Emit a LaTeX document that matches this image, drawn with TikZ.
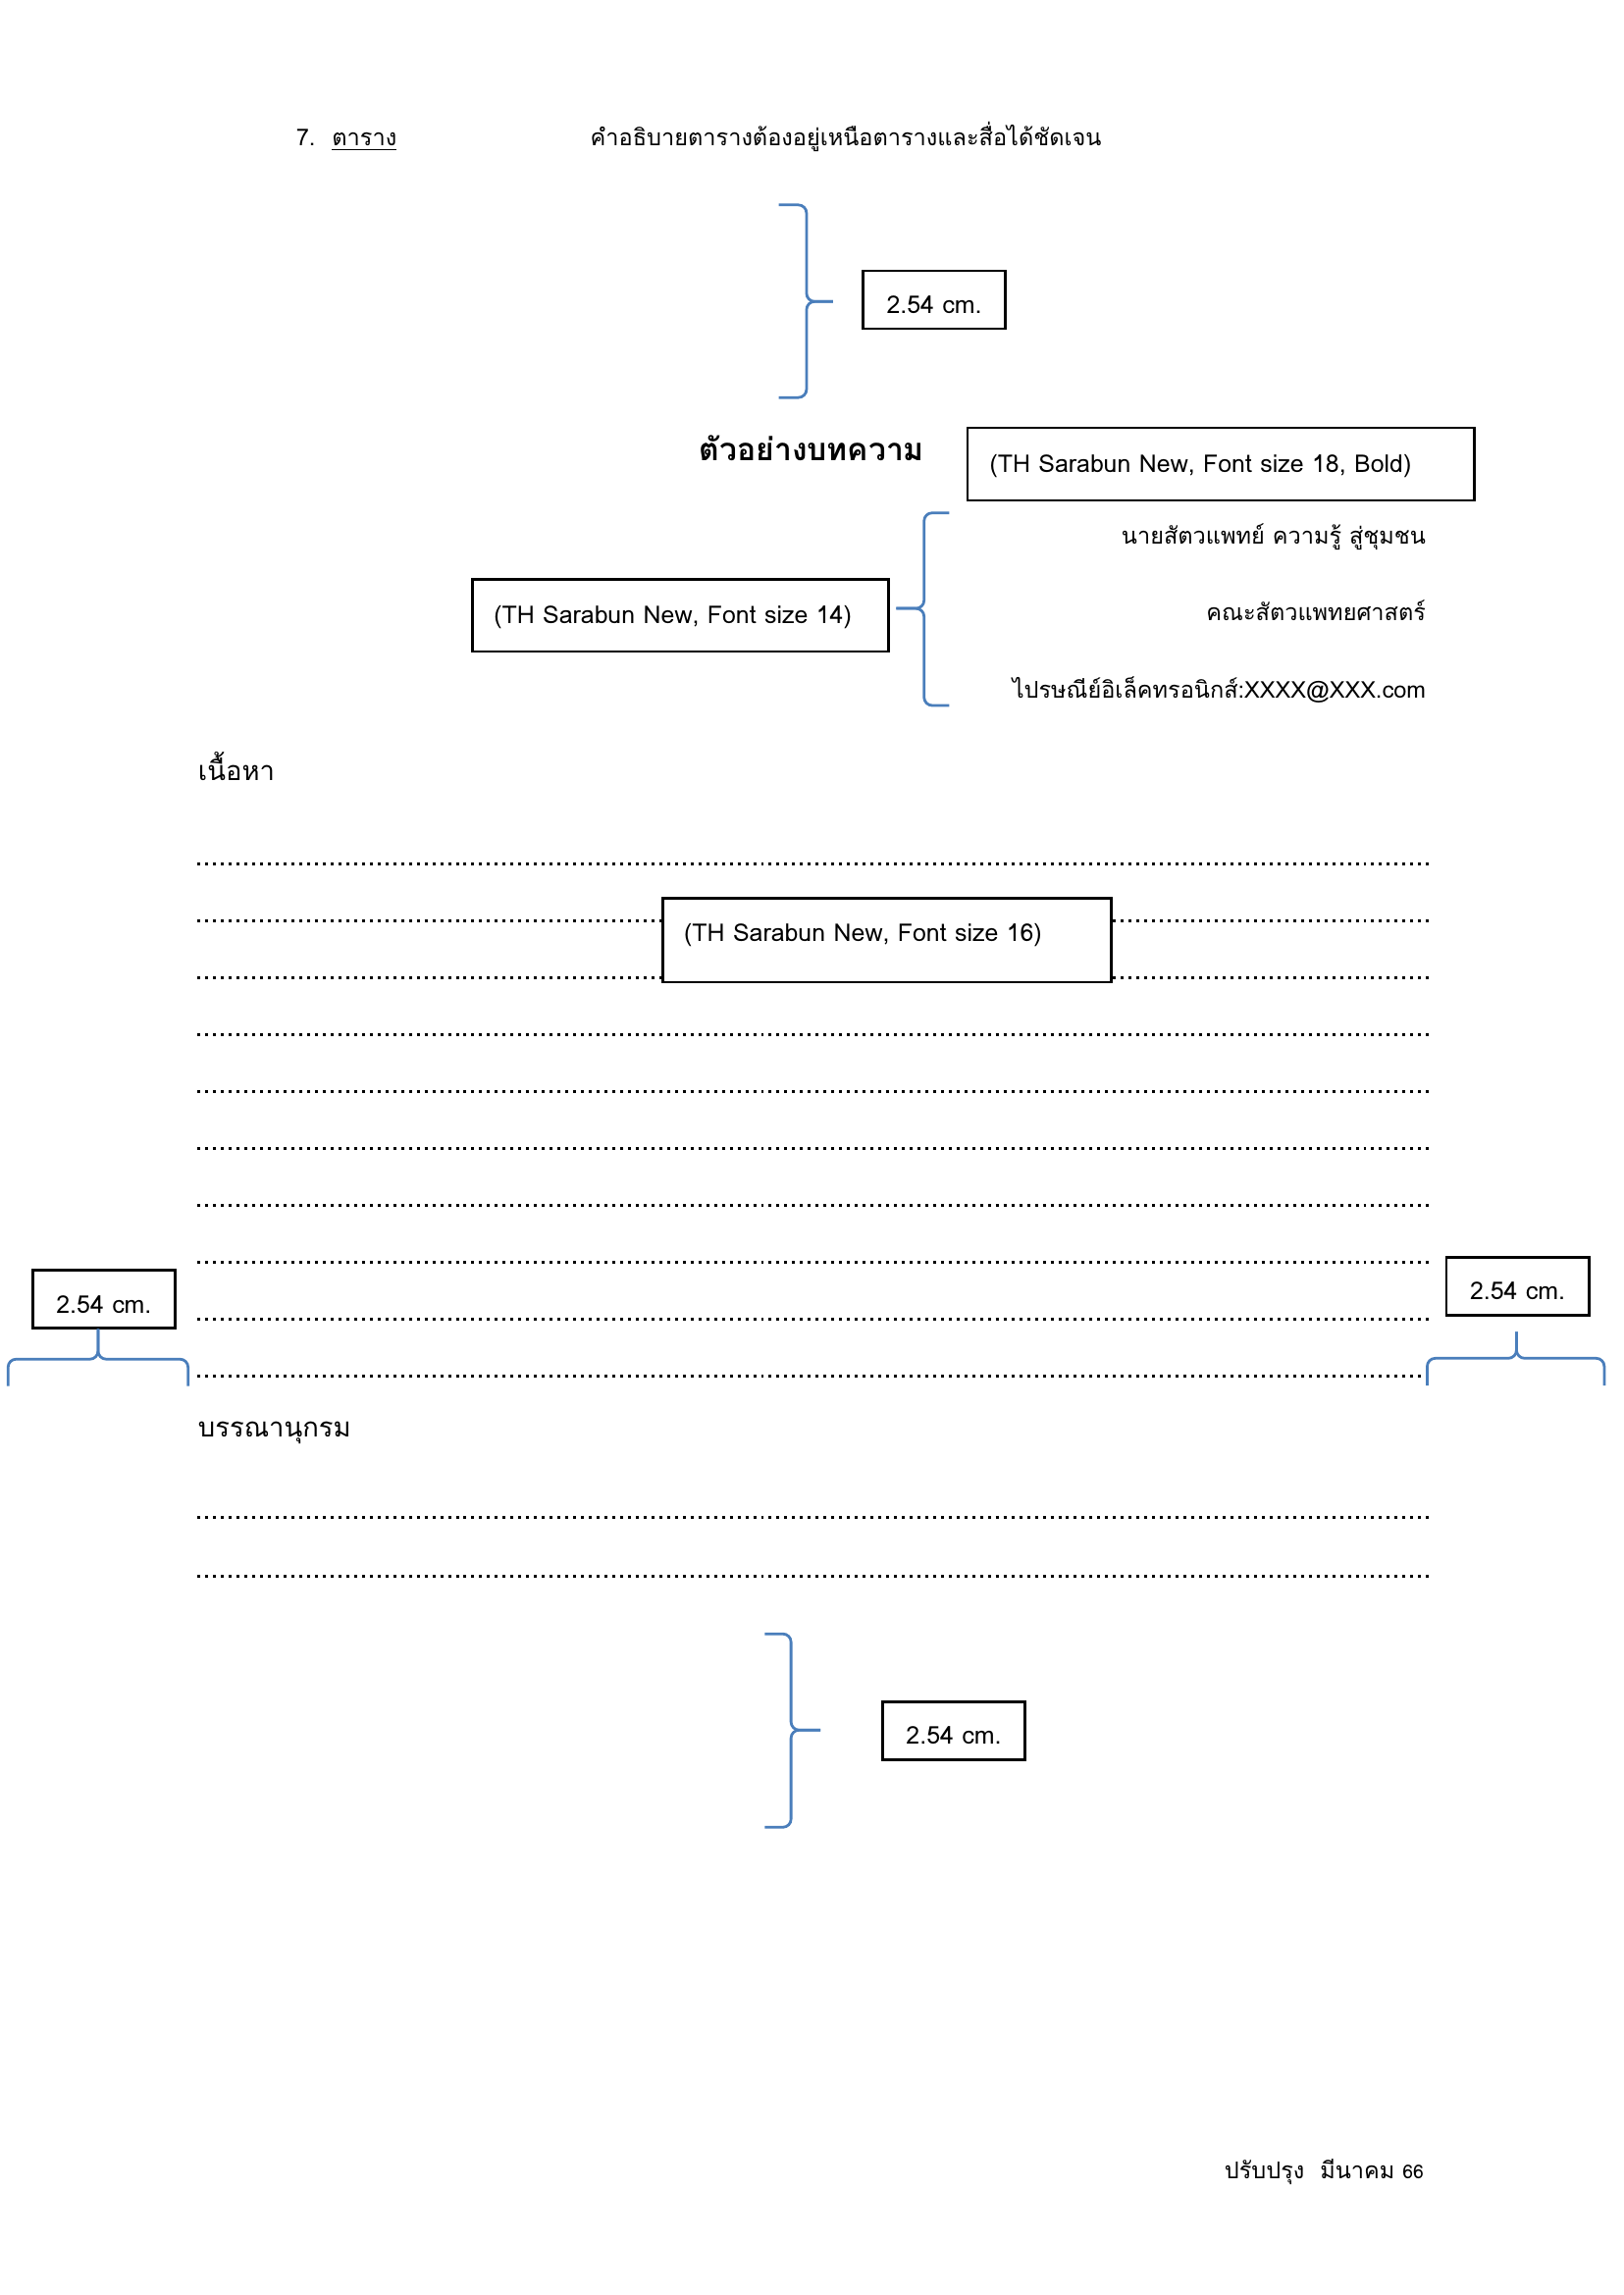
\documentclass[tikz,border=0pt]{standalone}
\usepackage{fontspec}
\setmainfont[Script=Thai]{Loma}
\definecolor{bluebrace}{RGB}{74,126,187}

\begin{document}
\begin{tikzpicture}[x=0.018935cm, y=-0.018935cm,
  txt/.style={inner sep=0pt, font=\fontsize{8.5}{10}\selectfont},
  headtxt/.style={inner sep=0pt, font=\fontsize{9.9}{12}\selectfont},
  boxtxt/.style={inner sep=0pt, font=\fontsize{9}{11}\selectfont},
  cmbox/.style={draw, line width=1pt, fill=white, minimum width=1.846cm, minimum height=0.75cm, inner sep=0pt, text height=10pt, text depth=0pt, font=\fontsize{9}{11}\selectfont},
  framebox/.style={draw, line width=1pt, fill=white, inner sep=0pt},
  bracket/.style={draw=bluebrace, line width=1pt, rounded corners=3pt},
  dotline/.style={line width=1.08pt, dash pattern=on 1.08pt off 1.8pt}]
\useasboundingbox (0,0) rectangle (1109,1568);

% heading
\node[txt, anchor=base west] (num) at (202,99.5) {7.};
\node[txt, anchor=base west] (tbl) at (226.5,99.5) {\underline{ตาราง}};
\node[txt, anchor=base west] (caption) at (403,99.5) {คำอธิบายตารางต้องอยู่เหนือตารางและสื่อได้ชัดเจน};

% top margin
\draw[bracket] (532,140) -| (551,206) -- (569,206);
\draw[bracket] (532,271.6) -| (551,206) -- (569,206);
\node[cmbox] (topcm) at (638.25,204.8) {2.54 cm.};

% title
\node[inner sep=0pt, font=\bfseries\fontsize{11.5}{14}\selectfont, anchor=base west] (title) at (477.5,315) {ตัวอย่างบทความ};
\node[framebox, minimum width=6.552cm, minimum height=0.941cm] (fs18) at (834,317.1) {};
\node[boxtxt, anchor=base west] (fs18txt) at (675.7,323) {(TH Sarabun New, Font size 18, Bold)};

% author block
\node[txt, anchor=base east] (author) at (974.4,372) {นายสัตวแพทย์ ความรู้ สู่ชุมชน};
\node[txt, anchor=base east] (faculty) at (974.4,424.2) {คณะสัตวแพทยศาสตร์};
\node[txt, anchor=base east] (email) at (974.4,477) {ไปรษณีย์อิเล็คทรอนิกส์:XXXX@XXX.com};
\draw[bracket] (648.5,350.4) -| (631.3,415.7) -- (612.3,415.7);
\draw[bracket] (648.5,482) -| (631.3,415.7) -- (612.3,415.7);
\node[framebox, minimum width=5.385cm, minimum height=0.939cm] (fs14) at (464.8,420.4) {};
\node[boxtxt, anchor=base west] (fs14txt) at (337,425.7) {(TH Sarabun New, Font size 14)};

% content
\node[headtxt, anchor=base west] (content) at (135,533) {เนื้อหา};
\foreach \k in {0,...,9}
  \draw[dotline] (135,590+38.9*\k) -- (976,590+38.9*\k);
\node[framebox, minimum width=5.794cm, minimum height=1.089cm] (fs16) at (606,642.25) {};
\node[boxtxt, anchor=base west] (fs16txt) at (467,643.2) {(TH Sarabun New, Font size 16)};

% side margins
\node[cmbox] (leftcm) at (71,887.7) {2.54 cm.};
\draw[bracket] (5.5,946.9) |- (67,928.6) -- (67,908);
\draw[bracket] (128.5,946.9) |- (67,928.6) -- (67,908);
\node[cmbox] (rightcm) at (1036.8,878.7) {2.54 cm.};
\draw[bracket] (975,946.7) |- (1036,928) -- (1036,910);
\draw[bracket] (1096,946.7) |- (1036,928) -- (1036,910);

% references
\node[headtxt, anchor=base west] (refs) at (135,982) {บรรณานุกรม};
\foreach \yy in {1037,1077}
  \draw[dotline] (135,\yy) -- (976,\yy);

% bottom margin
\draw[bracket] (522.4,1116.3) -| (540.4,1182) -- (560.5,1182);
\draw[bracket] (522.4,1248.4) -| (540.4,1182) -- (560.5,1182);
\node[cmbox] (botcm) at (651.6,1182.3) {2.54 cm.};

% footer
\node[txt, anchor=base east] (footer) at (973,1488.5) {ปรับปรุง~~มีนาคม {\fontsize{7}{8}\selectfont 66}};
\end{tikzpicture}
\end{document}
